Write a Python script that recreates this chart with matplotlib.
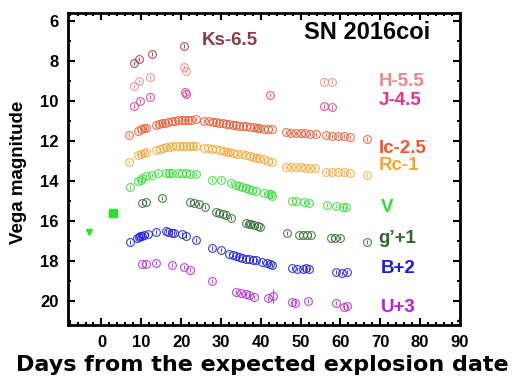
import numpy as np
import matplotlib
matplotlib.use('Agg')
import matplotlib.pyplot as plt
from matplotlib.ticker import MultipleLocator

# light curve of SN 2016coi (days, shifted mag)
ks_day = [8.1, 9.3, 12.6, 20.8]
ks_mag = [8.1, 7.92, 7.67, 7.27]

h_day = [8.1, 9.3, 12.3, 20.8, 21.1, 55.8, 57.8]
h_mag = [9.27, 9.02, 8.82, 8.32, 8.52, 9.07, 9.07]

j_day = [8.1, 9.6, 12.3, 21.0, 21.2, 42.3, 55.8, 57.8]
j_mag = [10.27, 10.02, 9.82, 9.57, 9.67, 9.72, 10.27, 10.32]

ic_day = [6.8, 9.1, 10.0, 10.6, 11.3, 13.8, 14.5, 15.3, 16.0, 16.8, 17.8, 18.5, 19.3,
          20.3, 21.0, 21.8, 22.6, 23.8, 25.8, 27.0, 28.0, 28.8, 29.6, 30.4, 31.3, 32.1,
          33.0, 33.8, 34.6, 35.5, 36.3, 37.3, 38.2, 39.0, 39.6, 40.8, 41.8, 42.8,
          46.4, 47.6, 48.8, 50.0, 51.2, 52.4, 53.8, 56.3, 57.8, 59.3, 60.8, 62.4, 66.6]
ic_mag = [11.72, 11.52, 11.42, 11.37, 11.37, 11.20, 11.17, 11.12, 11.10, 11.07, 11.02,
          11.00, 10.98, 10.97, 10.96, 10.95, 10.94, 10.92, 11.00, 11.03, 11.05, 11.07,
          11.10, 11.12, 11.15, 11.17, 11.20, 11.22, 11.24, 11.26, 11.28, 11.31, 11.33,
          11.36, 11.37, 11.40, 11.41, 11.43,
          11.58, 11.60, 11.61, 11.62, 11.63, 11.64, 11.65, 11.72, 11.74, 11.76, 11.78,
          11.80, 11.92]

rc_day = [6.8, 9.1, 10.0, 10.6, 11.3, 13.8, 14.6, 15.4, 16.3, 17.2, 17.8, 18.8, 19.6,
          20.5, 21.3, 22.2, 23.0, 23.8, 25.8, 26.8, 27.8, 28.8, 29.8, 30.8, 31.5, 32.1,
          33.1, 34.1, 35.2, 36.3, 37.2, 38.1, 38.9, 39.6, 40.8, 41.8, 42.8,
          46.4, 47.6, 48.8, 50.0, 51.2, 52.4, 53.6, 56.3, 57.8, 59.3, 60.8, 62.4, 66.6]
rc_mag = [13.07, 12.72, 12.67, 12.62, 12.57, 12.47, 12.43, 12.38, 12.33, 12.30, 12.28,
          12.27, 12.27, 12.26, 12.27, 12.27, 12.27, 12.28, 12.35, 12.37, 12.40, 12.42,
          12.46, 12.50, 12.54, 12.57, 12.60, 12.64, 12.68, 12.72, 12.76, 12.80, 12.84,
          12.87, 12.93, 12.99, 13.07,
          13.30, 13.31, 13.32, 13.33, 13.34, 13.35, 13.36, 13.55, 13.56, 13.57, 13.58,
          13.59, 13.72]

v_day = [7.1, 9.1, 9.8, 10.1, 11.3, 12.6, 14.1, 16.3, 17.0, 17.6, 19.3, 20.3, 21.2,
         22.1, 23.8, 27.8, 30.1, 32.6, 33.8, 34.6, 35.3, 36.2, 37.1, 37.9, 38.8, 40.8,
         42.0, 42.6, 42.8, 47.8, 48.8, 50.8, 52.1, 56.6, 58.8, 60.6, 61.3]
v_mag = [14.32, 14.02, 13.95, 13.87, 13.77, 13.72, 13.62, 13.60, 13.60, 13.61, 13.62,
         13.62, 13.63, 13.64, 13.67, 13.97, 13.97, 14.12, 14.22, 14.27, 14.33, 14.37,
         14.42, 14.47, 14.50, 14.60, 14.64, 14.67, 14.75, 15.02, 15.02, 15.05, 15.10,
         15.22, 15.28, 15.30, 15.32]

# early V-band detections / limits
sq_day, sq_mag = [2.8], [15.62]
tri_day, tri_mag = [-3.2], [16.57]

g_day = [10.1, 11.1, 15.1, 22.1, 23.3, 24.6, 26.1, 28.8, 29.6, 30.4, 31.3, 32.6, 36.3,
         37.0, 37.6, 38.4, 39.2, 39.8, 46.6, 49.6, 50.6, 51.6, 52.6, 57.6, 58.6, 59.8, 66.6]
g_mag = [15.12, 15.07, 14.87, 15.07, 15.12, 15.17, 15.32, 15.57, 15.60, 15.64, 15.70,
         15.84, 16.12, 16.15, 16.18, 16.22, 16.27, 16.33, 16.62, 16.70, 16.70, 16.72,
         16.73, 16.85, 16.87, 16.88, 17.07]

b_day = [7.1, 8.8, 9.3, 9.6, 10.1, 10.6, 11.8, 13.8, 16.1, 16.8, 17.8, 18.2, 20.1, 21.1,
         23.8, 27.8, 30.1, 32.1, 33.0, 33.8, 34.6, 35.4, 36.2, 37.1, 38.0, 38.8, 40.3,
         41.6, 42.3, 42.8, 47.8, 49.1, 50.6, 51.3, 52.1, 58.8, 60.3, 61.6]
b_mag = [17.07, 16.87, 16.82, 16.77, 16.75, 16.72, 16.67, 16.57, 16.52, 16.57, 16.62,
         16.60, 16.67, 16.77, 16.97, 17.37, 17.47, 17.65, 17.70, 17.74, 17.80, 17.84,
         17.88, 17.92, 17.93, 17.95, 18.05, 18.12, 18.14, 18.20, 18.37, 18.40, 18.40,
         18.37, 18.38, 18.57, 18.58, 18.57]

u_day = [10.1, 11.1, 13.8, 17.8, 20.8, 22.1, 27.8, 33.8, 35.1, 36.3, 37.1, 38.3, 41.8,
         43.1, 47.8, 48.6, 51.8, 58.8, 60.8, 61.6]
u_mag = [18.17, 18.17, 18.12, 18.22, 18.32, 18.47, 19.02, 19.57, 19.62, 19.67, 19.72,
         19.80, 19.87, 19.77, 20.07, 20.12, 20.02, 20.12, 20.32, 20.27]
u_err = [0.1, 0.1, 0.1, 0.1, 0.1, 0.1, 0.1, 0.1, 0.1, 0.1, 0.1, 0.1, 0.12,
         0.35, 0.1, 0.1, 0.1, 0.1, 0.1, 0.1]

bands = [
    ('Ks-6.5', ks_day, ks_mag, '#8E3B46', (32.1, 7.0)),
    ('H-5.5', h_day, h_mag, '#F08585', (69.6, 9.02)),
    ('J-4.5', j_day, j_mag, '#EC2E8C', (69.6, 9.97)),
    ('Ic-2.5', ic_day, ic_mag, '#F2542D', (69.6, 12.37)),
    ('Rc-1', rc_day, rc_mag, '#F7A630', (69.6, 13.22)),
    ('V', v_day, v_mag, '#2EE02E', (70.1, 15.32)),
    ('g\u2019+1', g_day, g_mag, '#2D6B2D', (69.6, 16.87)),
    ('B+2', b_day, b_mag, '#1A1AE6', (70.1, 18.37)),
    ('U+3', u_day, u_mag, '#B620E0', (70.1, 20.32)),
]

W, H = 517, 380
fig = plt.figure(figsize=(W / 100, H / 100), dpi=100)
ax = fig.add_axes([68 / W, 1 - 325 / H, (460 - 68) / W, (325 - 13) / H])

lab_font = dict(family='Liberation Sans', weight='bold')

for name, d, m, col, (tx, ty) in bands:
    err = u_err if name == 'U+3' else 0.1
    ax.errorbar(d, m, yerr=err, fmt='o', mfc='none', mec=col, ecolor=col,
                ms=5.6, mew=0.8, elinewidth=0.7, capsize=0, alpha=0.85)
    ha = 'center' if name == 'Ks-6.5' else 'left'
    ax.text(tx, ty, name, color=col, fontsize=13.5, ha=ha, va='center', **lab_font)

ax.plot(sq_day, sq_mag, 's', color='#2EE02E', ms=6)
ax.plot(tri_day, tri_mag, 'v', color='#2EE02E', ms=5)

ax.text(66.6, 6.57, 'SN 2016coi', color='black', fontsize=17, ha='center',
        va='center', **lab_font)

ax.set_xlim(-8.4, 90)
ax.set_ylim(21.2, 5.62)
ax.xaxis.set_major_locator(MultipleLocator(10))
ax.xaxis.set_minor_locator(MultipleLocator(2))
ax.yaxis.set_major_locator(MultipleLocator(2))
ax.yaxis.set_minor_locator(MultipleLocator(1))
ax.tick_params(which='both', direction='in', top=True, right=True, width=1.5)
ax.tick_params(which='major', length=5, pad=7)
ax.tick_params(which='minor', length=2.5)
for s in ax.spines.values():
    s.set_linewidth(2)
for lbl in ax.get_xticklabels() + ax.get_yticklabels():
    lbl.set_fontfamily('Liberation Sans')
    lbl.set_fontweight('bold')
    lbl.set_fontsize(12)

fig.text(262 / W, 1 - 365 / H, 'Days from the expected explosion date',
         fontsize=16, family='DejaVu Sans', weight='bold', ha='center', va='center')
fig.text(19 / W, 1 - 172 / H, 'Vega magnitude', rotation=90, fontsize=13.5,
         ha='center', va='center', **lab_font)

fig.savefig('out.png', dpi=100)
